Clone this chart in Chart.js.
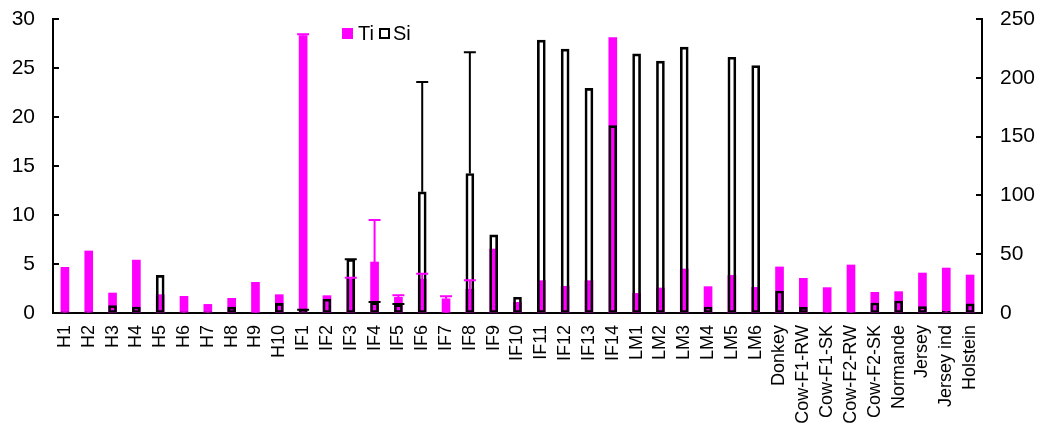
<!DOCTYPE html>
<html>
<head>
<meta charset="utf-8">
<script src="https://cdn.jsdelivr.net/npm/chart.js@4"></script>
<style>
  html, body { margin: 0; padding: 0; background: #fff; }
  #wrap { position: relative; width: 1044px; height: 430px; }
  .legend { position: absolute; top: 22px; left: 342px; font: 20px "Liberation Sans", Arial, sans-serif;
    color: #000; display: flex; align-items: center; white-space: nowrap; }
  .sw { display: inline-block; width: 11px; height: 11px; box-sizing: border-box; }
  .sw.ti { background: #ff00ff; margin-right: 5px; }
  .sw.si { border: 2px solid #000; background: #fff; margin: 0 3px 0 5px; }
</style>
</head>
<body>
<div id="wrap">
  <canvas id="c" width="1044" height="430"></canvas>
  <div class="legend"><span class="sw ti"></span>Ti<span class="sw si"></span>Si</div>
</div>
<script>
const labels = ["H1", "H2", "H3", "H4", "H5", "H6", "H7", "H8", "H9", "H10",
  "IF1", "IF2", "IF3", "IF4", "IF5", "IF6", "IF7", "IF8", "IF9", "IF10", "IF11", "IF12", "IF13", "IF14",
  "LM1", "LM2", "LM3", "LM4", "LM5", "LM6",
  "Donkey", "Cow-F1-RW", "Cow-F1-SK", "Cow-F2-RW", "Cow-F2-SK", "Normande", "Jersey", "Jersey ind", "Holstein"];

// Ti (left axis)
const ti = [4.66, 6.33, 2.04, 5.4, 1.87, 1.7, 0.88, 1.5, 3.13, 1.87,
  28.3, 1.77, 3.5, 5.2, 1.6, 3.45, 1.45, 2.43, 6.53, 1.09, 3.3, 2.72, 3.3, 28.1,
  2.0, 2.55, 4.49, 2.69, 3.84, 2.62,
  4.7, 3.54, 2.59, 4.9, 2.11, 2.18, 4.08, 4.59, 3.88];
const tiErr = [null, null, null, null, null, null, null, null, null, null,
  0.15, null, 0.1, 4.3, 0.2, 0.55, 0.25, 0.9, null, null, null, null, null, null,
  null, null, null, null, null, null,
  null, null, null, null, null, null, null, null, null];

// Si (right axis)
const si = [1, 1, 6.3, 5.1, 32, 1, 1, 5, 0.4, 8.2,
  2.5, 11.7, 45.5, 8.8, 7.1, 103, 0.4, 118.6, 66.5, 13.4, 232, 224.4, 191, 159.3,
  220.4, 214.2, 226.1, 5.1, 217.5, 210.3,
  18.7, 4.8, 0.5, 0.5, 8.5, 10.2, 5.4, 1.4, 7.7];
const siErr = [null, null, null, null, null, null, null, null, null, null,
  0.3, null, 0.3, 0.5, 0.5, 93.5, null, 103.2, null, null, null, null, null, null,
  null, null, null, null, null, null,
  null, null, null, null, null, null, null, null, null];

const leftTicks = [0, 5, 10, 15, 20, 25, 30];
const rightTicks = [0, 50, 100, 150, 200, 250];

const MAGENTA = "#ff00ff";
const FONT = "'Liberation Sans', Arial, sans-serif";

// error bars (upper only), drawn from the bar value through the scales
const errorBars = {
  id: "errorBars",
  afterDatasetsDraw(chart) {
    const ctx = chart.ctx;
    [[0, tiErr, MAGENTA], [1, siErr, "#000"]].forEach(([di, errs, col]) => {
      const meta = chart.getDatasetMeta(di);
      const sc = chart.scales[meta.yAxisID];
      const vals = chart.data.datasets[di].data;
      ctx.save();
      ctx.strokeStyle = col;
      ctx.lineWidth = 2;
      meta.data.forEach((bar, i) => {
        const e = errs[i];
        if (e == null) return;
        const y0 = sc.getPixelForValue(vals[i]);
        const y1 = sc.getPixelForValue(vals[i] + e);
        ctx.beginPath();
        ctx.moveTo(bar.x, y0); ctx.lineTo(bar.x, y1);
        ctx.moveTo(bar.x - 6, y1); ctx.lineTo(bar.x + 6, y1);
        ctx.stroke();
      });
      ctx.restore();
    });
  }
};

// tick marks pointing into the plot
const innerTicks = {
  id: "innerTicks",
  afterDraw(chart) {
    const { ctx, chartArea, scales } = chart;
    ctx.save();
    ctx.strokeStyle = "#000";
    ctx.lineWidth = 2;
    scales.y.ticks.forEach((t) => {
      const y = Math.round(scales.y.getPixelForValue(t.value));
      ctx.beginPath(); ctx.moveTo(chartArea.left, y); ctx.lineTo(chartArea.left + 6, y); ctx.stroke();
    });
    scales.y1.ticks.forEach((t) => {
      const y = Math.round(scales.y1.getPixelForValue(t.value));
      ctx.beginPath(); ctx.moveTo(chartArea.right, y); ctx.lineTo(chartArea.right - 6, y); ctx.stroke();
    });
    ctx.restore();
  }
};

// invisible tick marks keep the labels off the axis without padding the top
const hiddenGrid = (len) => ({ display: true, drawOnChartArea: false, drawTicks: true,
  tickLength: len, color: "rgba(0,0,0,0)" });

new Chart(document.getElementById("c"), {
  type: "bar",
  data: {
    labels,
    datasets: [
      { label: "Ti", data: ti, yAxisID: "y", backgroundColor: MAGENTA, borderWidth: 0,
        barThickness: 8, grouped: false, order: 1 },
      { label: "Si", data: si, yAxisID: "y1", backgroundColor: "rgba(0,0,0,0)", borderColor: "#000",
        borderWidth: 2, borderSkipped: false, barThickness: 8, grouped: false, order: 0 },
    ],
  },
  options: {
    responsive: false,
    animation: false,
    layout: { padding: { top: 19, left: 0, right: 0, bottom: 0 } },
    plugins: { legend: { display: false }, tooltip: { enabled: false } },
    scales: {
      x: {
        grid: { display: false, drawTicks: false },
        border: { display: true, color: "#000", width: 2 },
        ticks: { color: "#000", autoSkip: false, maxRotation: 90, minRotation: 90, padding: 12,
          font: { family: FONT, size: 18 } },
        afterFit: (s) => { s.height = 117; },
      },
      y: {
        position: "left", min: 0, max: 30,
        afterBuildTicks: (s) => { s.ticks = leftTicks.map((v) => ({ value: v })); },
        grid: hiddenGrid(18),
        border: { display: true, color: "#000", width: 2 },
        ticks: { color: "#000", padding: 0, font: { family: FONT, size: 21 } },
        afterFit: (s) => { s.width = 53; },
      },
      y1: {
        position: "right", min: 0, max: 250,
        afterBuildTicks: (s) => { s.ticks = rightTicks.map((v) => ({ value: v })); },
        grid: hiddenGrid(18),
        border: { display: true, color: "#000", width: 2 },
        ticks: { color: "#000", padding: 0, font: { family: FONT, size: 21 } },
        afterFit: (s) => { s.width = 62; },
      },
    },
  },
  plugins: [errorBars, innerTicks],
});
</script>
</body>
</html>
